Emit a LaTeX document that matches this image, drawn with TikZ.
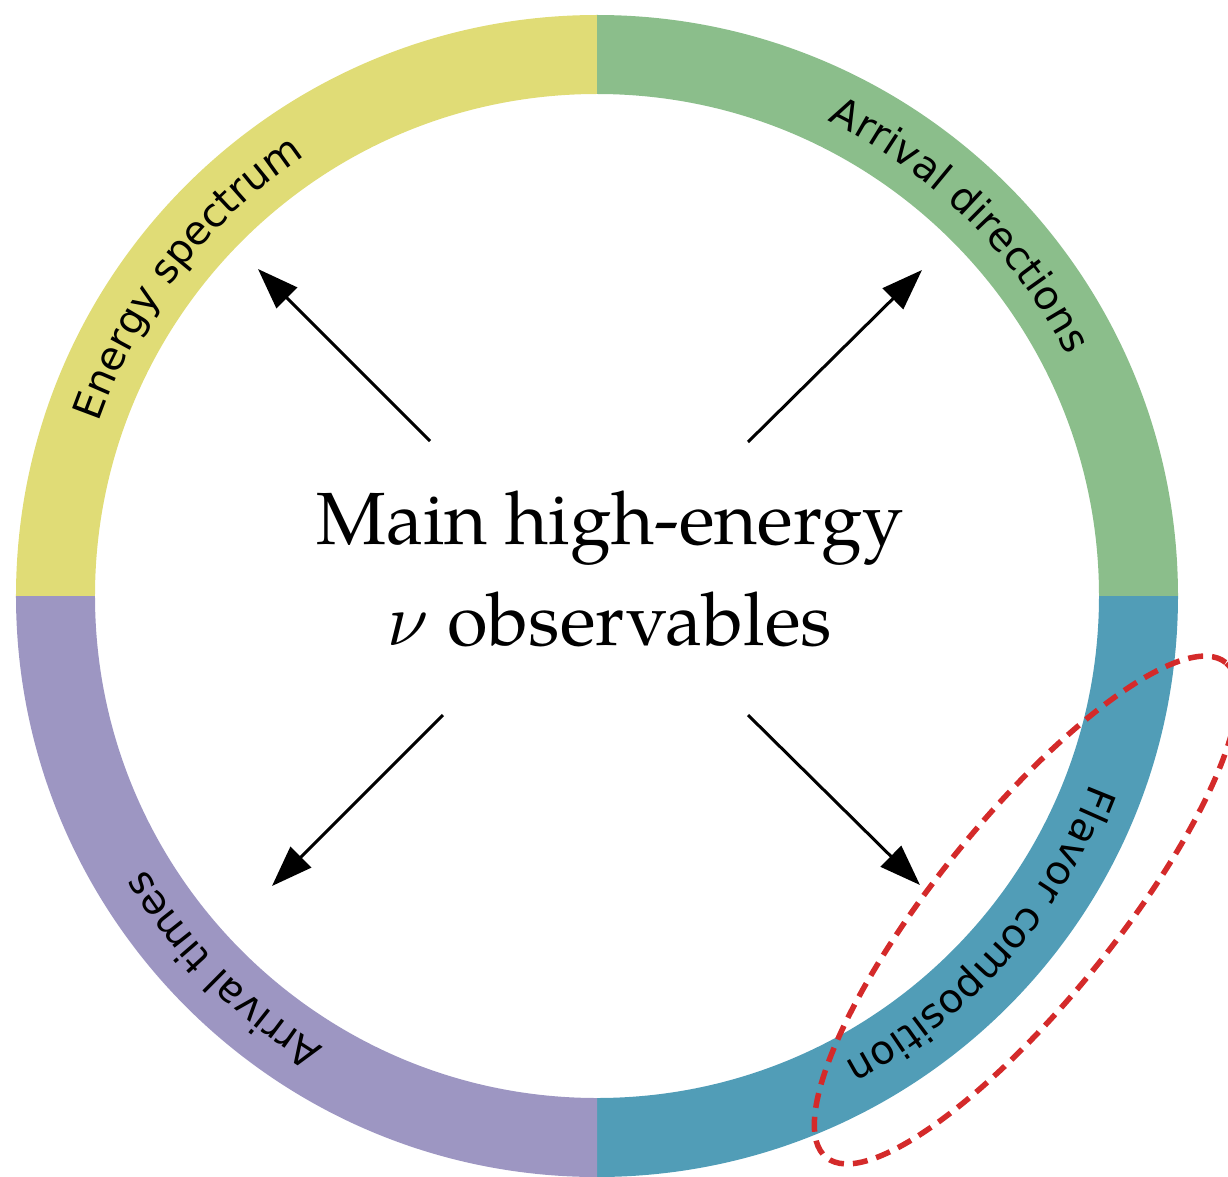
\documentclass[tikz,border=0pt]{standalone}
\usepackage{fontspec}
\usepackage{unicode-math}
\setmathfont{Latin Modern Math}
\usetikzlibrary{arrows.meta,decorations.text}
\newfontfamily\ringfam{DejaVu Sans}
\newfontfamily\pagfam{TeX Gyre Pagella}
\newcommand\ringfont{\ringfam\fontsize{40}{48}\selectfont}
\definecolor{ringY}{HTML}{E0DC76}
\definecolor{ringG}{HTML}{8BBE8B}
\definecolor{ringB}{HTML}{519DB7}
\definecolor{ringP}{HTML}{9D96C2}
\definecolor{hlred}{HTML}{D42A2A}
\tikzset{
  obsarrow/.style={line width=3pt,-{Triangle[length=41pt,width=29pt]}},
  ringlabel/.style={decorate,decoration={text along path,text align=center,text={|\ringfont|#1}}},
  hlbox/.style={draw=hlred,line width=5.5pt,dash pattern=on 15pt off 9pt},
  titletext/.style={inner sep=0pt,anchor=base,font=\pagfam\fontsize{74}{100}\selectfont}
}
\begin{document}
\begin{tikzpicture}[x=1pt,y=1pt]
\useasboundingbox (-597,-580) rectangle (631,596);
\def\Ro{581}
\def\Ri{502}
\def\Rt{528}
% ring quadrants
\fill[ringY] (180:\Ro) arc[start angle=180,end angle=90,radius=\Ro] -- (90:\Ri) arc[start angle=90,end angle=180,radius=\Ri] -- cycle;
\fill[ringG] (90:\Ro) arc[start angle=90,end angle=0,radius=\Ro] -- (0:\Ri) arc[start angle=0,end angle=90,radius=\Ri] -- cycle;
\fill[ringB] (0:\Ro) arc[start angle=0,end angle=-90,radius=\Ro] -- (-90:\Ri) arc[start angle=-90,end angle=0,radius=\Ri] -- cycle;
\fill[ringP] (-90:\Ro) arc[start angle=-90,end angle=-180,radius=\Ro] -- (-180:\Ri) arc[start angle=-180,end angle=-90,radius=\Ri] -- cycle;
% ring labels
\path[ringlabel={Energy spectrum}] (182.2:\Rt) arc[start angle=182.2,end angle=102.2,radius=\Rt];
\path[ringlabel={Arrival directions}] (85.6:\Rt) arc[start angle=85.6,end angle=5.6,radius=\Rt];
\path[ringlabel={Flavor composition}] (-1.4:\Rt) arc[start angle=-1.4,end angle=-81.4,radius=\Rt];
\path[ringlabel={Arrival times}] (-95:\Rt) arc[start angle=-95,end angle=-175,radius=\Rt];
% centre title
\node[titletext] (title1) at (13,52) {Main high-energy};
\node[titletext] (title2) at (13,-49) {$\nu$ observables};
% arrows
\coordinate (ulS) at (-167,155); \coordinate (ulT) at (-339,327);
\coordinate (urS) at (151,154);  \coordinate (urT) at (325,326);
\coordinate (llS) at (-154,-119); \coordinate (llT) at (-325,-290);
\coordinate (lrS) at (151,-119); \coordinate (lrT) at (323,-289);
\draw[obsarrow] (ulS) -- (ulT);
\draw[obsarrow] (urS) -- (urT);
\draw[obsarrow] (llS) -- (llT);
\draw[obsarrow] (lrS) -- (lrT);
% highlight
\draw[hlbox,shift={(429,-314)},rotate=51.1] (0,0) ellipse [x radius=318,y radius=90];
\end{tikzpicture}
\end{document}
